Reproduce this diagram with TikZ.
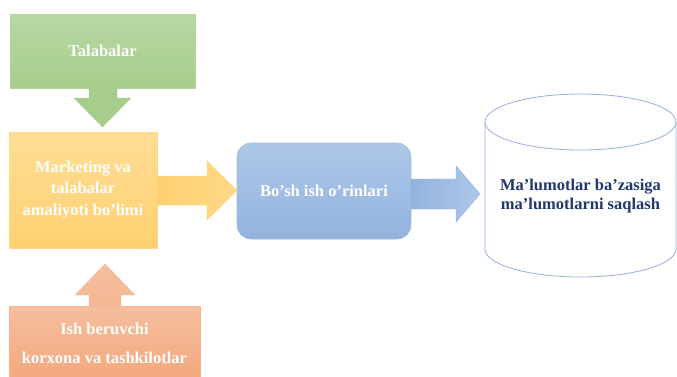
\documentclass[tikz,border=0pt]{standalone}
\usepackage{fontspec}
\setmainfont{Liberation Serif}
\begin{document}
\begin{tikzpicture}[x=1pt,y=-1pt,
  box/.style={draw=#1!85!white, line width=0.6pt, inner sep=0pt, outer sep=0pt},
  lbl/.style={text=white, font=\bfseries\fontsize{16.5}{21.5}\selectfont, align=center}
]
\definecolor{gTop}{RGB}{184,216,163}
\definecolor{gBot}{RGB}{166,205,140}
\definecolor{oTop}{RGB}{255,222,150}
\definecolor{oBot}{RGB}{255,208,112}
\definecolor{sTop}{RGB}{245,190,158}
\definecolor{sBot}{RGB}{244,168,126}
\definecolor{bTop}{RGB}{174,199,232}
\definecolor{bBot}{RGB}{146,178,222}
\definecolor{cylLine}{RGB}{150,176,222}
\definecolor{navy}{RGB}{32,56,110}
\useasboundingbox (0,0) rectangle (677,376);

% boxes
\node[box=gBot, minimum width=185pt, minimum height=74pt, top color=gTop, bottom color=gBot] (tal) at (102.5,51) {};
\node[lbl] (talT) at (tal.center) {Talabalar};

\node[box=oBot, minimum width=148pt, minimum height=116pt, top color=oTop, bottom color=oBot] (mkt) at (83,190) {};
\node[lbl] (mktT) at (mkt.center) {Marketing va\\talabalar\\amaliyoti bo’limi};

\node[box=sBot, minimum width=191pt, minimum height=72pt, top color=sTop, bottom color=sBot] (ish) at (104.5,342) {};
\node[lbl, font=\bfseries\fontsize{16.5}{29}\selectfont] (ishT) at (104.5,343) {Ish beruvchi\\korxona va tashkilotlar};

\node[box=bBot, rounded corners=14pt, minimum width=174pt, minimum height=96pt, top color=bTop, bottom color=bBot] (bosh) at (324,191) {};
\node[lbl] (boshT) at (bosh.center) {Bo’sh ish o’rinlari};

% cylinder
\coordinate (cylTop) at (580.5,122);
\coordinate (cylBot) at (580.5,249);
\draw[cylLine, line width=0.8pt, fill=white]
  (485,122) -- (485,249) arc[start angle=180, end angle=360, x radius=95.5pt, y radius=28pt]
  -- (676,122);
\draw[cylLine, line width=0.8pt] (cylTop) ellipse[x radius=95.5pt, y radius=28pt];
\node[text=navy, font=\bfseries\fontsize{16.5}{19.5}\selectfont, align=center] (db) at (580.5,196) {Ma’lumotlar ba’zasiga\\ma’lumotlarni saqlash};

% block arrows
\shade[top color=gBot, bottom color=gBot, draw=gBot] (89,88) -- (117,88) -- (117,98) -- (131,98) -- (102.5,127) -- (74,98) -- (89,98) -- cycle;

\shade[left color=oBot, right color=oTop!60!oBot, draw=oBot] (157,176) -- (207,176) -- (207,161) -- (237,190.5) -- (207,220) -- (207,205) -- (157,205) -- cycle;

\shade[top color=sTop, bottom color=sTop!70!sBot, draw=sTop] (89,306) -- (89,295) -- (75,295) -- (105,264) -- (135,295) -- (121,295) -- (121,306) -- cycle;

\shade[left color=bBot, right color=bTop, draw=bBot] (411,179) -- (456,179) -- (456,166) -- (480,194) -- (456,222) -- (456,209) -- (411,209) -- cycle;
\end{tikzpicture}
\end{document}
